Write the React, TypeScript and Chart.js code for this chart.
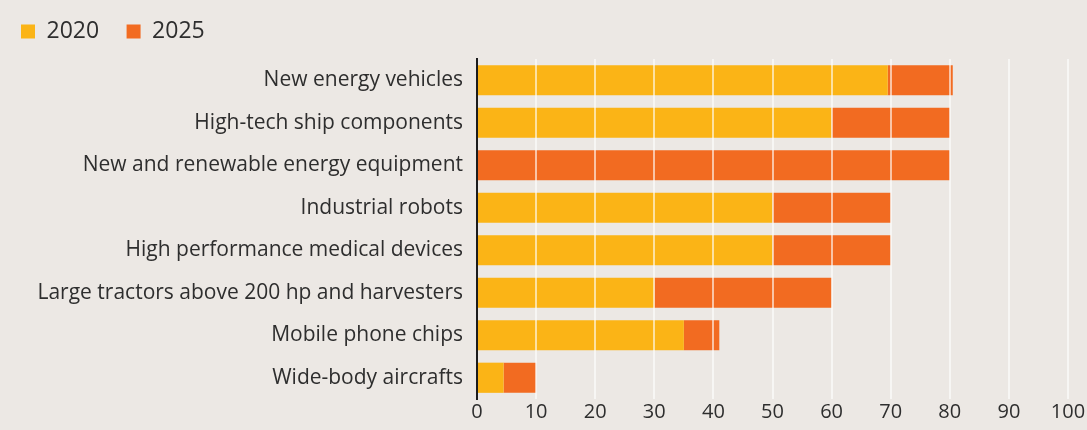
import React, { useEffect, useRef } from "react";
import { Chart, registerables } from "chart.js";

Chart.register(...registerables);

const categories = [
  "New energy vehicles",
  "High-tech ship components",
  "New and renewable energy equipment",
  "Industrial robots",
  "High performance medical devices",
  "Large tractors above 200 hp and harvesters",
  "Mobile phone chips",
  "Wide-body aircrafts",
];
const values2020 = [69.5, 60, 0, 50, 50, 30, 35, 4.5];
const values2025 = [11, 20, 80, 20, 20, 30, 6, 5.5];
const seriesLabels = ["2020", "2025"];
const xTicks = [0, 10, 20, 30, 40, 50, 60, 70, 80, 90, 100];

const COLOR_2020 = "#fbb416";
const COLOR_2025 = "#f26b21";
const BG = "#ece8e4";
const TEXT = "#2e2e2e";

const legendSpacer = {
  id: "legendSpacer",
  beforeLayout(chart: any) {
    const lg = chart.legend;
    if (lg && !lg.__patched) {
      const orig = lg.fit;
      lg.fit = function () {
        orig.call(this);
        this.height += 6;
      };
      lg.__patched = true;
    }
  },
};

export default function App() {
  const ref = useRef<HTMLCanvasElement>(null);
  useEffect(() => {
    if (!ref.current) return;
    const chart = new Chart(ref.current, {
      type: "bar",
      data: {
        labels: categories,
        datasets: [
          {
            label: seriesLabels[0],
            data: values2020,
            backgroundColor: COLOR_2020,
            borderWidth: 0,
            barPercentage: 0.71,
            categoryPercentage: 1,
          },
          {
            label: seriesLabels[1],
            data: values2025,
            backgroundColor: COLOR_2025,
            borderWidth: 0,
            barPercentage: 0.71,
            categoryPercentage: 1,
          },
        ],
      },
      plugins: [legendSpacer],
      options: {
        indexAxis: "y",
        animation: false,
        responsive: false,
        layout: { padding: { left: 11, right: 19, top: 10, bottom: 5 } },
        font: { family: "'Open Sans', sans-serif" },
        plugins: {
          tooltip: { enabled: false },
          legend: {
            display: true,
            position: "top",
            align: "start",
            labels: {
              boxWidth: 14,
              boxHeight: 14,
              padding: 10,
              color: TEXT,
              font: { size: 23, family: "'Open Sans', sans-serif" },
              generateLabels(chart: any) {
                const items = Chart.defaults.plugins.legend.labels.generateLabels(chart);
                return items.map((it: any, i: number) => ({
                  ...it,
                  text: i < items.length - 1 ? it.text + "\u2002 " : it.text,
                }));
              },
            },
          },
        },
        scales: {
          x: {
            stacked: true,
            min: 0,
            max: 100,
            afterBuildTicks(scale: any) {
              scale.ticks = xTicks.map((v) => ({ value: v }));
            },
            grid: {
              z: 1,
              color: (ctx: any) =>
                ctx.tick && ctx.tick.value === 0
                  ? "rgba(0,0,0,0)"
                  : "rgba(255,255,255,0.6)",
              lineWidth: 2,
              drawTicks: false,
            },
            border: { display: false },
            ticks: {
              color: TEXT,
              padding: 1,
              font: { size: 20, family: "'Open Sans', sans-serif" },
            },
          },
          y: {
            stacked: true,
            afterFit(scale: any) {
              scale.width = 477 - 11;
            },
            grid: { display: false, drawTicks: false },
            border: { display: true, color: "#1c1c1c", width: 2, z: 2 },
            ticks: {
              color: TEXT,
              padding: 14,
              font: { size: 21, family: "'Open Sans', sans-serif" },
            },
          },
        },
      },
    });
    return () => chart.destroy();
  }, []);
  return (
    <div
      style={{
        position: "fixed",
        left: 0,
        top: 0,
        width: 1087,
        height: 430,
        background: BG,
      }}
    >
      <canvas ref={ref} width={1087} height={430} />
    </div>
  );
}
